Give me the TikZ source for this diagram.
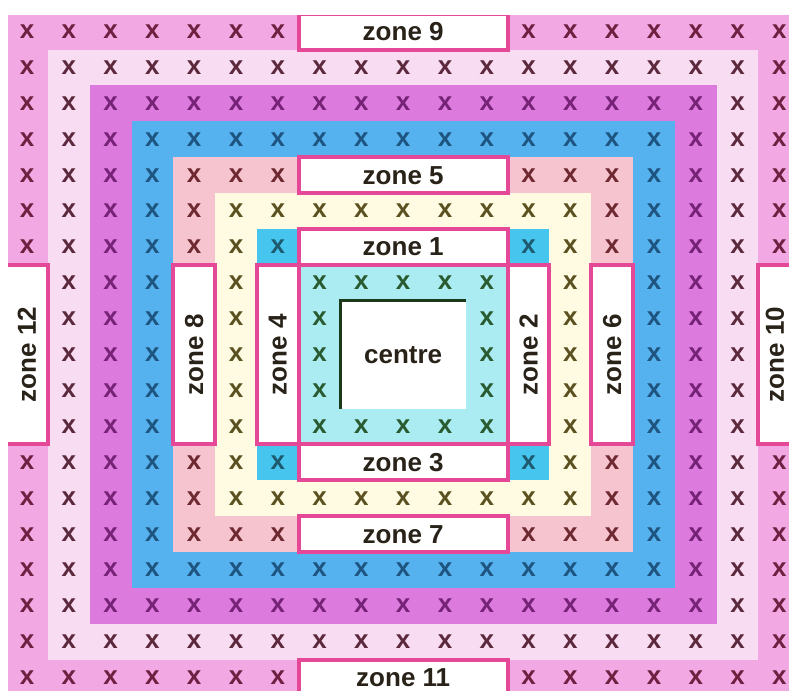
\documentclass[tikz,border=0pt]{standalone}
\usepackage{fontspec}
\setmainfont{Liberation Sans}

% ring colours, outside in
\definecolor{ring9}{RGB}{242,168,226}
\definecolor{ring8}{RGB}{248,220,242}
\definecolor{ring7}{RGB}{220,122,222}
\definecolor{ring6}{RGB}{86,178,238}
\definecolor{ring5}{RGB}{246,196,206}
\definecolor{ring4}{RGB}{255,251,226}
\definecolor{ring3}{RGB}{70,198,238}
\definecolor{ring2}{RGB}{170,236,242}
% colours of the crosses
\definecolor{mark9}{RGB}{110,32,64}
\definecolor{mark8}{RGB}{92,40,60}
\definecolor{mark7}{RGB}{118,34,118}
\definecolor{mark6}{RGB}{30,84,128}
\definecolor{mark5}{RGB}{110,40,48}
\definecolor{mark4}{RGB}{90,80,32}
\definecolor{mark3}{RGB}{30,90,112}
\definecolor{mark2}{RGB}{42,90,48}
\definecolor{zoneedge}{RGB}{230,72,152}
\definecolor{centreedge}{RGB}{26,58,26}
\definecolor{ink}{RGB}{40,34,24}

\begin{document}
\begin{tikzpicture}[x=41.8pt, y=-35.9pt,
    bigfont/.style={font=\fontsize{26}{30}\selectfont\bfseries},
    xmark/.style={bigfont, inner sep=0pt},
    zonebox/.style={draw=zoneedge, line width=4pt, fill=white, inner sep=0pt, text=ink, bigfont},
    hzone/.style={zonebox, minimum width=209pt, minimum height=35.9pt},
    vzone/.style={zonebox, minimum width=179.5pt, minimum height=41.8pt, rotate=90},
    centrebox/.style={fill=white, inner sep=0pt, minimum width=125.4pt, minimum height=107.7pt, text=ink, bigfont}]
  \useasboundingbox (-0.646,-0.88) rectangle (18.23,18.36);
  \clip (-0.45,-0.45) rectangle (18.23,18.36);

  % Rings
  \foreach \d in {9,...,2}
    \fill[ring\d] (9-\d-0.5,9-\d-0.5) rectangle (9+\d+0.5,9+\d+0.5);

  % Crosses (none under the zone boxes and the centre)
  \foreach \i in {0,...,18}
    \foreach \j in {0,...,18} {
      \pgfmathtruncatemacro{\d}{max(abs(\i-9),abs(\j-9))}
      \pgfmathtruncatemacro{\hide}{(\d<2) || ((\d==3 || \d==5 || \d==9) && (min(abs(\i-9),abs(\j-9))<3))}
      \ifnum\hide=0
        \node[xmark, text=mark\d] (x-\i-\j) at (\i,\j) {x};
      \fi
    }

  % Zones
  \node[hzone] (zone9) at (9,0) {zone 9};
  \node[hzone] (zone5) at (9,4) {zone 5};
  \node[hzone] (zone1) at (9,6) {zone 1};
  \node[hzone] (zone3) at (9,12) {zone 3};
  \node[hzone] (zone7) at (9,14) {zone 7};
  \node[hzone] (zone11) at (9,18) {zone 11};
  \node[vzone] (zone12) at (0,9) {zone 12};
  \node[vzone] (zone8) at (4,9) {zone 8};
  \node[vzone] (zone4) at (6,9) {zone 4};
  \node[vzone] (zone2) at (12,9) {zone 2};
  \node[vzone] (zone6) at (14,9) {zone 6};
  \node[vzone, text depth=9pt] (zone10) at (18,9) {zone 10};

  % Centre
  \node[centrebox] (centre) at (9,9) {centre};
  \draw[centreedge, line width=2.5pt] (centre.south west) -- (centre.north west) -- (centre.north east);
\end{tikzpicture}
\end{document}
